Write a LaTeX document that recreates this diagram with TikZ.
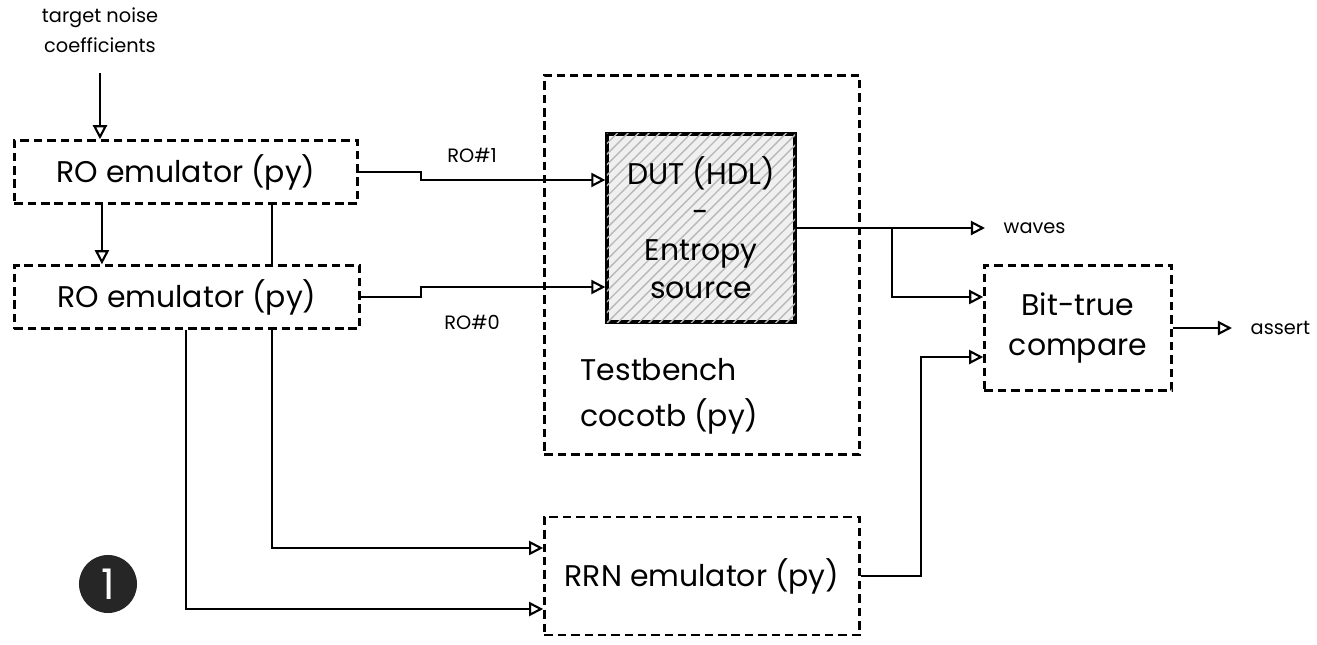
\documentclass[tikz,border=0pt]{standalone}
\usepackage{fontspec}
\setmainfont{Poppins}
\usetikzlibrary{arrows.meta,patterns,backgrounds}

\begin{document}
\begin{tikzpicture}[x=0.01cm,y=-0.01cm,
  box/.style={draw,line width=0.7pt,dash pattern=on 2.4pt off 1.4pt,fill=white,
    font=\fontsize{8.5}{11}\selectfont,align=center,inner sep=0pt},
  lbl/.style={font=\fontsize{5.5}{8.5}\selectfont,inner sep=0pt,align=center},
  arr/.style={line width=0.6pt,-{Triangle[open,length=4pt,width=4pt]}}]
\useasboundingbox (0,0) rectangle (1317,645);
% the two ring oscillator emulators and their input
\node[lbl] (target) at (100,30) {target noise\\coefficients};
\node[box,minimum width=3.43cm,minimum height=0.63cm] (ro1) at (186,172) {RO emulator (py)};
\node[box,minimum width=3.45cm,minimum height=0.63cm] (ro0) at (187,297) {RO emulator (py)};
% the testbench with the device under test inside
\node[box,minimum width=3.15cm,minimum height=3.79cm,fill=none] (tb) at (702,265) {};
\node[font=\fontsize{8.5}{13}\selectfont,align=left,anchor=north west,inner sep=0pt] (tbtext) at (580,358) {Testbench\\cocotb (py)};
\node[draw,line width=0.9pt,minimum size=1.88cm,fill=gray!12,
  postaction={pattern=north east lines,pattern color=gray!55},
  font=\fontsize{8.5}{10.8}\selectfont,align=center,inner sep=0pt] (dut) at (701,228) {DUT (HDL)\\-\\Entropy\\source};
% reference model and the comparison
\node[box,minimum width=3.15cm,minimum height=1.18cm] (rrn) at (702,576) {RRN emulator (py)};
\node[box,minimum width=1.87cm,minimum height=1.25cm,font=\fontsize{8.5}{11.4}\selectfont] (bit) at (1078,328) {Bit-true\\compare};
\node[lbl,anchor=west] (waves) at (1003,228) {waves};
\node[lbl,anchor=west] (assert) at (1250,328) {assert};
\node[lbl] (ro1lbl) at (472,155) {RO\#1};
\node[lbl] (ro0lbl) at (472,322) {RO\#0};
\node[circle,fill=black!85,text=white,minimum size=0.58cm,inner sep=0pt,font=\fontsize{12}{12}\selectfont] (step1) at (108,584) {1};
% connectors, kept behind the boxes
\begin{scope}[on background layer]
\draw[arr] ([yshift=-0.2cm]target.south) -- (target.south |- ro1.north);
\draw[arr] ([xshift=-0.84cm]ro1.south) -- ([xshift=-0.84cm]ro1.south |- ro0.north);
\draw[arr] ([xshift=0.86cm]ro1.south) |- ([yshift=0.28cm]rrn.west);
\draw[arr] ([xshift=-0.01cm]ro0.south) |- ([yshift=-0.33cm]rrn.west);
\draw[arr] (ro1.east) -- ++(62,0) |- ([yshift=0.48cm]dut.west);
\draw[arr] (ro0.east) -- ++(60,0) |- ([yshift=-0.59cm]dut.west);
\draw[arr] (dut.east) -- ([xshift=-0.18cm]waves.west);
\draw[arr] (dut.east) -- ++(95,0) |- ([yshift=0.31cm]bit.west);
\draw[arr] (rrn.east) -- ++(60,0) |- ([yshift=-0.29cm]bit.west);
\draw[arr] (bit.east) -- ([xshift=-0.18cm]assert.west);
\end{scope}
\end{tikzpicture}
\end{document}
